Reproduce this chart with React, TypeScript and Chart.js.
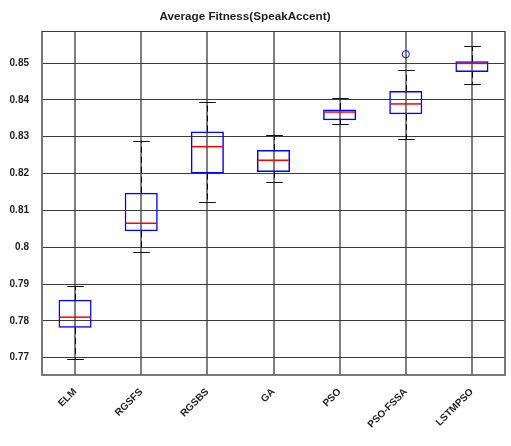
import React, { useEffect, useRef } from 'react';
import { Chart, registerables } from 'chart.js';

Chart.register(...registerables);

// Methods compared
const categories = ['ELM', 'RGSFS', 'RGSBS', 'GA', 'PSO', 'PSO-FSSA', 'LSTMPSO'];

// Five-number summaries of average fitness per method
const whiskerLow = [0.7696, 0.7988, 0.8122, 0.8177, 0.8334, 0.8294, 0.8444];
const q1 = [0.7781, 0.8043, 0.82, 0.8204, 0.8345, 0.8361, 0.8476];
const median = [0.781, 0.8065, 0.8273, 0.8236, 0.8367, 0.8389, 0.8499];
const q3 = [0.7857, 0.8148, 0.8314, 0.8264, 0.8374, 0.8424, 0.8505];
const whiskerHigh = [0.7895, 0.8289, 0.8395, 0.8305, 0.8405, 0.848, 0.8546];

// Outlying runs (one slot per method)
const outliers: (number | null)[] = [null, null, null, null, null, 0.8524, null];

// Value axis
const yTicks = [0.77, 0.78, 0.79, 0.8, 0.81, 0.82, 0.83, 0.84, 0.85];
const yMin = 0.7653;
const yMax = 0.8587;

const TITLE = 'Average Fitness(SpeakAccent)';
const FONT = '"Liberation Sans", Arial, Helvetica, sans-serif';
const TEXT_COLOR = '#1e1e1e';

const boxPlotPlugin = {
  id: 'boxPlotParts',
  beforeDatasetsDraw(chart: any) {
    const { ctx, chartArea, scales } = chart;
    const x = scales.x;
    const y = scales.y;
    const step = x.getPixelForValue(1) - x.getPixelForValue(0);
    const capHalf = step * 0.125;

    ctx.save();
    // plot frame
    ctx.strokeStyle = 'rgba(105,105,105,0.9)';
    ctx.lineWidth = 2;
    ctx.beginPath();
    ctx.moveTo(chartArea.left, chartArea.top);
    ctx.lineTo(chartArea.left, chartArea.bottom);
    ctx.lineTo(chartArea.right, chartArea.bottom);
    ctx.lineTo(chartArea.right, chartArea.top);
    ctx.stroke();
    ctx.strokeStyle = '#3c3c3c';
    ctx.lineWidth = 1;
    ctx.beginPath();
    ctx.moveTo(chartArea.left, chartArea.top + 0.5);
    ctx.lineTo(chartArea.right, chartArea.top + 0.5);
    ctx.stroke();

    categories.forEach((_, i) => {
      const cx = Math.round(x.getPixelForValue(i)) + 0.5;
      const yLo = y.getPixelForValue(whiskerLow[i]);
      const yQ1 = y.getPixelForValue(q1[i]);
      const yQ3 = y.getPixelForValue(q3[i]);
      const yHi = y.getPixelForValue(whiskerHigh[i]);

      // dashed whiskers
      ctx.strokeStyle = '#000';
      ctx.lineWidth = 1;
      ctx.setLineDash([6, 4]);
      ctx.beginPath();
      ctx.moveTo(cx, yQ3);
      ctx.lineTo(cx, yHi);
      ctx.moveTo(cx, yQ1);
      ctx.lineTo(cx, yLo);
      ctx.stroke();

      // whisker caps
      ctx.setLineDash([]);
      ctx.strokeStyle = '#111';
      ctx.beginPath();
      ctx.moveTo(cx - capHalf, Math.round(yHi) + 0.5);
      ctx.lineTo(cx + capHalf, Math.round(yHi) + 0.5);
      ctx.moveTo(cx - capHalf, Math.round(yLo) + 0.5);
      ctx.lineTo(cx + capHalf, Math.round(yLo) + 0.5);
      ctx.stroke();
    });
    ctx.restore();
  },
  afterDatasetsDraw(chart: any) {
    const { ctx, scales } = chart;
    const x = scales.x;
    const y = scales.y;
    const step = x.getPixelForValue(1) - x.getPixelForValue(0);
    const boxHalf = step * 0.25;
    ctx.save();
    ctx.strokeStyle = '#ff0000';
    ctx.lineWidth = 1.5;
    categories.forEach((_, i) => {
      const cx = x.getPixelForValue(i);
      const ym = y.getPixelForValue(median[i]);
      ctx.beginPath();
      ctx.moveTo(cx - boxHalf + 1, ym);
      ctx.lineTo(cx + boxHalf - 1, ym);
      ctx.stroke();
    });
    ctx.restore();
  },
  afterDraw(chart: any) {
    const { ctx } = chart;
    ctx.save();
    ctx.fillStyle = TEXT_COLOR;
    ctx.font = `bold 11.7px ${FONT}`;
    ctx.textAlign = 'center';
    ctx.textBaseline = 'middle';
    ctx.fillText(TITLE, 245, 16.5);
    ctx.restore();
  },
};

export default function App() {
  const canvasRef = useRef<HTMLCanvasElement | null>(null);

  useEffect(() => {
    const canvas = canvasRef.current;
    if (!canvas) return;
    const tickFont = { family: FONT, size: 10, weight: 'bold' as const };
    const chart = new Chart(canvas, {
      type: 'bar',
      data: {
        labels: categories,
        datasets: [
          {
            type: 'bar',
            label: 'Interquartile range',
            data: categories.map((_, i) => [q1[i], q3[i]]) as any,
            backgroundColor: 'rgba(0,0,0,0)',
            borderColor: '#0000ff',
            borderWidth: 1.5,
            borderSkipped: false,
            barPercentage: 0.5,
            categoryPercentage: 1,
          },
          {
            type: 'line',
            label: 'Outliers',
            data: outliers as any,
            showLine: false,
            pointStyle: 'circle',
            pointRadius: 3.6,
            pointBorderWidth: 1,
            pointBorderColor: '#0000ff',
            pointBackgroundColor: 'rgba(0,0,0,0)',
          } as any,
        ],
      },
      options: {
        responsive: false,
        animation: false,
        devicePixelRatio: 1,
        layout: { padding: { top: 31, right: 6, left: 0, bottom: 0 } },
        plugins: {
          legend: { display: false },
          tooltip: { enabled: false },
          title: { display: false },
        },
        scales: {
          x: {
            type: 'category',
            offset: true,
            grid: {
              offset: false,
              color: 'rgba(105,105,105,0.85)',
              lineWidth: 2,
              drawTicks: false,
            },
            border: { display: false },
            ticks: {
              autoSkip: false,
              minRotation: 45,
              maxRotation: 45,
              padding: 11,
              color: TEXT_COLOR,
              font: tickFont,
            },
            afterFit: (s: any) => {
              s.height = 71;
            },
          },
          y: {
            type: 'linear',
            min: yMin,
            max: yMax,
            afterBuildTicks: (s: any) => {
              s.ticks = yTicks.map((v) => ({ value: v }));
            },
            grid: { color: '#3c3c3c', lineWidth: 1, drawTicks: false },
            border: { display: false },
            ticks: {
              padding: 13,
              color: TEXT_COLOR,
              font: tickFont,
              callback: (v: any) => String(Number(Number(v).toFixed(2))),
            },
            afterFit: (s: any) => {
              s.width = 42;
            },
          },
        },
      },
      plugins: [boxPlotPlugin],
    });
    return () => chart.destroy();
  }, []);

  return (
    <div style={{ position: 'absolute', left: 0, top: 0, width: 511, height: 446, background: '#fff' }}>
      <canvas ref={canvasRef} width={511} height={446} />
    </div>
  );
}
